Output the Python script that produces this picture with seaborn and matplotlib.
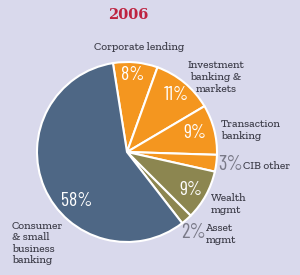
import matplotlib
matplotlib.use("Agg")
import matplotlib.pyplot as plt
import seaborn as sns

sns.set_theme(style="white")

# Data
categories = ["Corporate lending", "Investment\nbanking &\nmarkets", "Transaction\nbanking",
              "CIB other", "Wealth\nmgmt", "Asset\nmgmt", "Consumer\n& small\nbusiness\nbanking"]
shares = [8, 11, 9, 3, 9, 2, 58]
title = "2006"

ORANGE = "#f4961f"
OLIVE = "#8c8650"
SLATE = "#4e6785"
colors = [ORANGE, ORANGE, ORANGE, ORANGE, OLIVE, OLIVE, SLATE]
BG = "#d9d9ec"
TXT = "#3e3e4a"
PCT_FONT = ["Barlow Condensed", "Fira Sans Condensed", "Encode Sans Condensed", "DejaVu Sans"]
LAB_FONT = ["Roboto Slab", "Zilla Slab", "Arvo", "DejaVu Serif"]

fig = plt.figure(figsize=(3.0, 2.75), dpi=100)
fig.patch.set_facecolor(BG)
ax = fig.add_axes([0, 0, 1, 1])
ax.set_facecolor(BG)

wedges, texts, autotexts = ax.pie(
    shares, colors=colors, startangle=99, counterclock=False,
    center=(127, 123), radius=90, autopct="%d%%", pctdistance=0.8,
    wedgeprops=dict(edgecolor="white", linewidth=1.5),
    textprops=dict(color="white", fontsize=14, family=PCT_FONT),
    frame=True)
ax.set_xlim(0, 300)
ax.set_ylim(0, 275)
ax.set_aspect("equal")
ax.axis("off")

# adjust percentage label positions (pixel coords from top)
pct_pos = {0: (133, 75), 1: (176, 95), 2: (195, 133), 3: (231, 165),
           4: (191, 190), 5: (194, 232), 6: (77, 201)}
for i, t in enumerate(autotexts):
    x, y = pct_pos[i]
    t.set_position((x, 275 - y))
    t.set_ha("center")
    t.set_va("center")
    if shares[i] <= 3:
        t.set_color("#7a7a88")
        t.set_fontsize(15)

# category labels
lab_pos = [(139, 47, "center"), (216, 77, "center"), (221, 130, "left"),
           (243, 166, "left"), (211, 204, "left"), (206, 234, "left"), (12, 243, "left")]
for lab, (x, y, ha) in zip(categories, lab_pos):
    ax.text(x, 275 - y, lab, ha=ha, va="center", fontsize=8.2, family=LAB_FONT,
            fontweight="medium", color=TXT, linespacing=1.2)

ax.text(128, 275 - 15, title, ha="center", va="center", fontsize=10.5,
        family="DejaVu Serif", fontweight="bold", color="#be2240")

fig.savefig("out.png", dpi=100, facecolor=BG)
